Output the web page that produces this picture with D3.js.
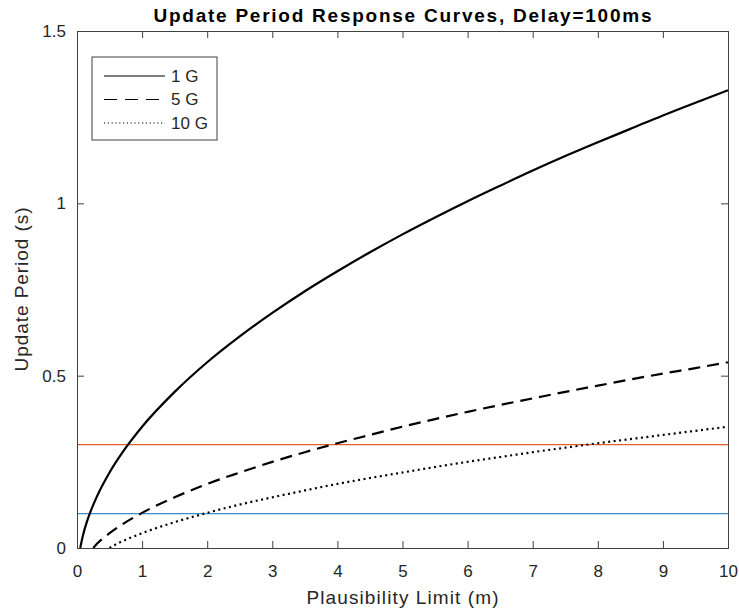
<!DOCTYPE html>
<html>
<head>
<meta charset="utf-8">
<script src="https://cdn.jsdelivr.net/npm/d3@7"></script>
<style>
  body { margin: 0; background: #fff; }
  text { font-family: "Liberation Sans", Arial, sans-serif; }
</style>
</head>
<body>
<svg id="chart" width="739" height="615"></svg>
<script>
// values
const seriesNames = ["1 G", "5 G", "10 G"];

const x1g = [0.05, 0.07, 0.1, 0.15, 0.2, 0.3, 0.5, 0.75, 1, 1.5, 2, 2.5, 3, 3.5, 4, 4.5, 5, 5.5, 6, 6.5, 7, 7.5, 8, 8.5, 9, 9.5, 10];
const y1g = [0, 0.019, 0.043, 0.075, 0.102, 0.147, 0.219, 0.291, 0.352, 0.453, 0.539, 0.614, 0.682, 0.745, 0.803, 0.858, 0.910, 0.959, 1.006, 1.051, 1.095, 1.137, 1.177, 1.216, 1.255, 1.292, 1.328];

const x5g = [0.25, 0.3, 0.4, 0.5, 0.75, 1, 1.5, 2, 2.5, 3, 3.5, 4, 4.5, 5, 5.5, 6, 6.5, 7, 7.5, 8, 8.5, 9, 9.5, 10];
const y5g = [0, 0.011, 0.028, 0.043, 0.075, 0.102, 0.147, 0.186, 0.219, 0.250, 0.278, 0.304, 0.328, 0.352, 0.374, 0.395, 0.415, 0.434, 0.453, 0.471, 0.489, 0.506, 0.522, 0.539];

const x10g = [0.5, 0.6, 0.75, 1, 1.5, 2, 2.5, 3, 3.5, 4, 4.5, 5, 5.5, 6, 6.5, 7, 7.5, 8, 8.5, 9, 9.5, 10];
const y10g = [0, 0.011, 0.024, 0.043, 0.075, 0.102, 0.126, 0.147, 0.167, 0.186, 0.203, 0.219, 0.235, 0.250, 0.264, 0.278, 0.291, 0.304, 0.316, 0.328, 0.340, 0.352];

const thresholds = [0.3, 0.1];
const thresholdColors = ["#E0602A", "#3A8FD0"];

const xTicks = [0, 1, 2, 3, 4, 5, 6, 7, 8, 9, 10];
const yTicks = [0, 0.5, 1, 1.5];

const svg = d3.select("#chart");
const width = +svg.attr("width");
const height = +svg.attr("height");
const margin = { top: 31, right: 11, bottom: 67, left: 77 };
const plotWidth = width - margin.left - margin.right;
const plotHeight = height - margin.top - margin.bottom;

const xScale = d3.scaleLinear().domain([0, 10]).range([0, plotWidth]);
const yScale = d3.scaleLinear().domain([0, 1.5]).range([plotHeight, 0]);

const plot = svg.append("g")
    .attr("transform", `translate(${margin.left},${margin.top})`);

plot.append("rect")
    .attr("width", plotWidth)
    .attr("height", plotHeight)
    .attr("fill", "white");

// threshold lines
thresholds.forEach((t, i) => {
    plot.append("line")
        .attr("x1", xScale(0))
        .attr("x2", xScale(10))
        .attr("y1", yScale(t))
        .attr("y2", yScale(t))
        .attr("stroke", thresholdColors[i])
        .attr("stroke-width", 1.3);
});

const lineGen = d3.line()
    .x(d => xScale(d[0]))
    .y(d => yScale(d[1]))
    .curve(d3.curveMonotoneX);

const series = [
    { name: seriesNames[0], pts: d3.zip(x1g, y1g), dash: null, legendDash: null },
    { name: seriesNames[1], pts: d3.zip(x5g, y5g), dash: "12,7", legendDash: "13,8" },
    { name: seriesNames[2], pts: d3.zip(x10g, y10g), dash: "2,3.5", legendDash: "1.2,2.6" }
];

series.forEach(s => {
    plot.append("path")
        .datum(s.pts)
        .attr("fill", "none")
        .attr("stroke", "black")
        .attr("stroke-width", 2.2)
        .attr("stroke-dasharray", s.dash)
        .attr("d", lineGen);
});

// axes, ticks pointing inward on all four sides
const axisColor = "#404040";
const tickColor = "#262626";

const bottomAxis = d3.axisBottom(xScale).tickValues(xTicks).tickSize(-7).tickPadding(17).tickFormat(d3.format("d"));
const topAxis = d3.axisTop(xScale).tickValues(xTicks).tickSize(-7).tickFormat("");
const leftAxis = d3.axisLeft(yScale).tickValues(yTicks).tickSize(-7).tickPadding(11).tickFormat(d => d);
const rightAxis = d3.axisRight(yScale).tickValues(yTicks).tickSize(-7).tickFormat("");

function styleAxis(g) {
    g.select(".domain").attr("stroke", axisColor);
    g.selectAll(".tick line").attr("stroke", axisColor);
    g.selectAll(".tick text")
        .attr("fill", tickColor)
        .style("font-size", "17px")
        .style("font-family", "'Liberation Sans', Arial, sans-serif");
}

plot.append("g").attr("transform", `translate(0,${plotHeight})`).call(bottomAxis).call(styleAxis);
plot.append("g").call(topAxis).call(styleAxis);
plot.append("g").call(leftAxis).call(styleAxis);
plot.append("g").attr("transform", `translate(${plotWidth},0)`).call(rightAxis).call(styleAxis);

// legend
const legend = plot.append("g").attr("transform", "translate(15,26)");
legend.append("rect")
    .attr("width", 125)
    .attr("height", 83)
    .attr("fill", "white")
    .attr("stroke", axisColor)
    .attr("stroke-width", 1);

series.forEach((s, i) => {
    const yPos = 19 + i * 23.5;
    legend.append("line")
        .attr("x1", 12)
        .attr("x2", 73)
        .attr("y1", yPos)
        .attr("y2", yPos)
        .attr("stroke", "black")
        .attr("stroke-width", 1.1)
        .attr("stroke-dasharray", s.legendDash);
    legend.append("text")
        .attr("x", 79)
        .attr("y", yPos)
        .attr("dy", "0.35em")
        .attr("fill", tickColor)
        .style("font-size", "17px")
        .text(s.name);
});

// title and axis labels
svg.append("text")
    .attr("x", margin.left + plotWidth / 2)
    .attr("y", 22)
    .attr("text-anchor", "middle")
    .attr("font-weight", "bold")
    .attr("textLength", 498)
    .attr("lengthAdjust", "spacing")
    .style("font-size", "19px")
    .text("Update Period Response Curves, Delay=100ms");

svg.append("text")
    .attr("x", margin.left + plotWidth / 2)
    .attr("y", 604)
    .attr("text-anchor", "middle")
    .attr("fill", tickColor)
    .attr("textLength", 192)
    .attr("lengthAdjust", "spacing")
    .style("font-size", "19px")
    .text("Plausibility Limit (m)");

svg.append("text")
    .attr("transform", `translate(28,${margin.top + plotHeight / 2}) rotate(-90)`)
    .attr("text-anchor", "middle")
    .attr("fill", tickColor)
    .attr("textLength", 164)
    .attr("lengthAdjust", "spacing")
    .style("font-size", "19px")
    .text("Update Period (s)");
</script>
</body>
</html>
